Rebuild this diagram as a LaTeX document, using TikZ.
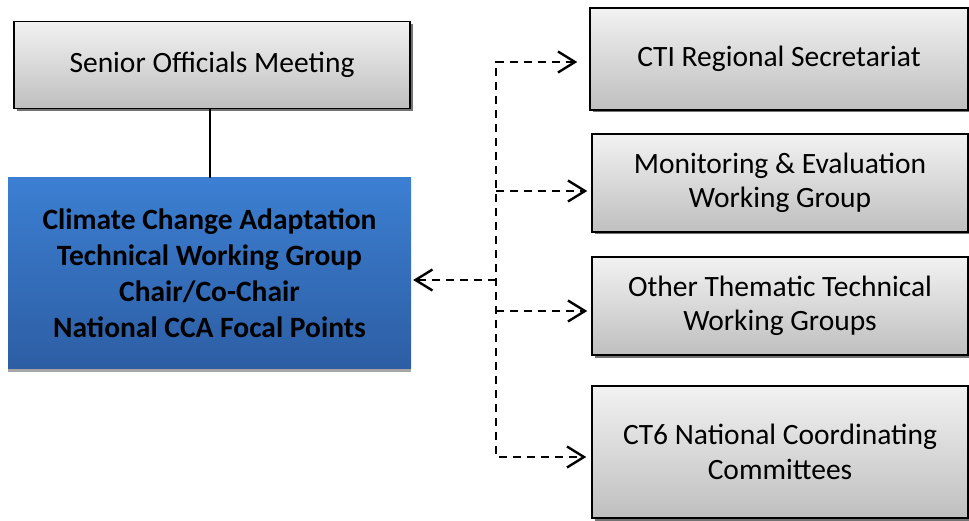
\documentclass[tikz,border=0pt]{standalone}
\usepackage{fontspec}
\setmainfont{Carlito}
\usetikzlibrary{arrows.meta,shadows}
\definecolor{gtop}{HTML}{F2F2F2}
\definecolor{gbot}{HTML}{BFBFBF}
\definecolor{btop}{HTML}{3C7FD2}
\definecolor{bbot}{HTML}{2D5EA4}
\tikzset{
  graybox/.style={draw=black, line width=1.5pt, top color=gtop, bottom color=gbot,
    align=center, inner sep=0pt, font=\fontsize{29.5}{34.5}\selectfont,
    drop shadow={shadow xshift=2.5pt, shadow yshift=-2.5pt, fill=black!55, opacity=1}},
  bluebox/.style={draw=none, top color=btop, bottom color=bbot, align=center, inner sep=0pt,
    font=\fontsize{29.5}{36}\selectfont\bfseries,
    drop shadow={shadow xshift=0pt, shadow yshift=-4pt, fill=black!35, opacity=1}},
  barb/.tip={Straight Barb[length=17pt,width=21pt,line width=2.4pt]},
  dsh/.style={line width=2.2pt, dash pattern=on 8pt off 6pt, arrows={-barb}},
  solidline/.style={line width=1.5pt}
}
\begin{document}
\begin{tikzpicture}[x=1pt,y=-1pt]
\useasboundingbox (0,0) rectangle (969,521);
\node[graybox, minimum width=396pt, minimum height=87pt] (som) at (212,65) {Senior Officials Meeting};
\node[bluebox, minimum width=403pt, minimum height=190pt] (cca) at (209.5,273)
  {Climate Change Adaptation\\Technical Working Group\\Chair/Co-Chair\\National CCA Focal Points};
\node[graybox, minimum width=378pt, minimum height=102pt] (cti) at (779,59) {CTI Regional Secretariat};
\node[graybox, minimum width=376pt, minimum height=98pt] (me) at (780,183) {Monitoring \& Evaluation\\Working Group};
\node[graybox, minimum width=376pt, minimum height=98pt] (oth) at (780,306) {Other Thematic Technical\\Working Groups};
\node[graybox, minimum width=376pt, minimum height=132pt] (ct6) at (780,452) {CT6 National Coordinating\\Committees};
\coordinate (j) at (496,280);
\draw[solidline] (som.south -| 210,0) -- (cca.north -| 210,0);
\draw[dsh,arrows={barb-barb}]
  ([xshift=-12pt,yshift=-3pt]cti.west) -| (j) |- ([xshift=-5pt,yshift=-5pt]ct6.west);
\draw[dsh] ([yshift=-8pt]me.west -| j) -- ([xshift=-4pt,yshift=-8pt]me.west);
\draw[dsh] ([yshift=-5pt]oth.west -| j) -- ([xshift=-4pt,yshift=-5pt]oth.west);
\draw[dsh] (j) -- ([xshift=2pt]cca.east |- j);
\end{tikzpicture}
\end{document}
